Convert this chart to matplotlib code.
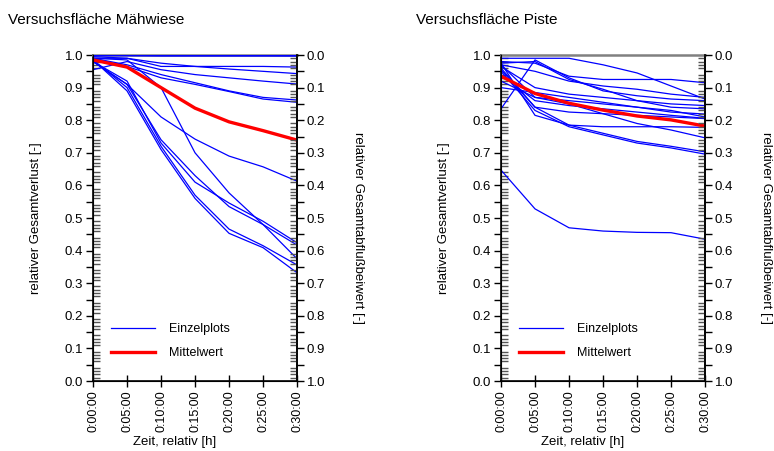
import matplotlib
matplotlib.use("Agg")
import matplotlib.pyplot as plt
from matplotlib.ticker import MultipleLocator, FuncFormatter, FixedLocator

plt.rcParams['font.family'] = ['Liberation Sans', 'DejaVu Sans']

# Zeit in Minuten seit Beregnungsbeginn
zeit_min = [0, 5, 10, 15, 20, 25, 30]

# Versuchsfläche Mähwiese: relativer Gesamtverlust je Plot
maehwiese_einzel = [
    [1.000, 1.000, 1.000, 1.000, 1.000, 1.000, 1.000],
    [1.000, 1.000, 0.999, 0.999, 0.999, 0.999, 0.998],
    [0.998, 0.998, 0.997, 0.997, 0.997, 0.997, 0.997],
    [0.990, 0.990, 0.965, 0.965, 0.965, 0.965, 0.963],
    [0.995, 0.990, 0.975, 0.965, 0.957, 0.950, 0.943],
    [0.955, 0.980, 0.955, 0.940, 0.930, 0.920, 0.911],
    [0.990, 0.970, 0.940, 0.915, 0.890, 0.870, 0.862],
    [0.990, 0.965, 0.930, 0.910, 0.888, 0.865, 0.855],
    [0.980, 0.910, 0.810, 0.742, 0.690, 0.657, 0.613],
    [0.990, 0.985, 0.900, 0.700, 0.577, 0.480, 0.375],
    [0.980, 0.920, 0.730, 0.610, 0.546, 0.490, 0.424],
    [0.980, 0.910, 0.740, 0.630, 0.535, 0.480, 0.417],
    [0.985, 0.900, 0.720, 0.570, 0.466, 0.415, 0.356],
    [0.985, 0.890, 0.710, 0.560, 0.453, 0.409, 0.332],
]
maehwiese_mittel = [0.985, 0.963, 0.900, 0.837, 0.795, 0.768, 0.739]

# Versuchsfläche Piste
piste_einzel = [
    [0.990, 0.990, 0.990, 0.970, 0.945, 0.905, 0.865],
    [0.980, 0.975, 0.935, 0.925, 0.925, 0.925, 0.915],
    [0.835, 0.985, 0.930, 0.890, 0.875, 0.865, 0.860],
    [0.975, 0.980, 0.925, 0.895, 0.860, 0.840, 0.835],
    [0.970, 0.950, 0.920, 0.905, 0.895, 0.880, 0.870],
    [0.965, 0.900, 0.880, 0.870, 0.860, 0.850, 0.845],
    [0.970, 0.870, 0.860, 0.850, 0.840, 0.830, 0.810],
    [0.960, 0.840, 0.825, 0.820, 0.815, 0.810, 0.805],
    [0.975, 0.815, 0.785, 0.780, 0.780, 0.780, 0.778],
    [0.955, 0.840, 0.785, 0.760, 0.735, 0.720, 0.703],
    [0.950, 0.830, 0.780, 0.755, 0.730, 0.715, 0.696],
    [0.920, 0.870, 0.850, 0.820, 0.790, 0.770, 0.746],
    [0.900, 0.885, 0.870, 0.855, 0.840, 0.825, 0.819],
    [0.940, 0.860, 0.845, 0.835, 0.825, 0.815, 0.806],
    [0.647, 0.528, 0.470, 0.460, 0.456, 0.455, 0.435],
]
piste_mittel = [0.935, 0.882, 0.852, 0.831, 0.813, 0.801, 0.782]

titel = ["Versuchsfläche Mähwiese", "Versuchsfläche Piste"]


def zeit_fmt(x, pos):
    return "0:%02d:00" % int(round(x))


def halbe_labels(y, pos):
    # Beschriftung nur an den Zehntel-Ticks
    if abs(round(y * 10) - y * 10) < 1e-6:
        return "%.1f" % y
    return ""


def panel(ax, einzel, mittel):
    for i, reihe in enumerate(einzel):
        ax.plot(zeit_min, reihe, color=(0, 0, 1), lw=0.9,
                label="Einzelplots" if i == 0 else None, zorder=3)
    ax.plot(zeit_min, mittel, color=(1, 0, 0), lw=2.4, label="Mittelwert", zorder=4)

    ax.set_xlim(0, 30)
    ax.set_ylim(0, 1)
    ax.xaxis.set_major_locator(FixedLocator(zeit_min))
    ax.xaxis.set_major_formatter(FuncFormatter(zeit_fmt))
    ax.tick_params(axis='x', direction='inout', length=9, width=1, labelsize=9,
                   labelrotation=90, pad=2)
    ax.yaxis.set_major_locator(MultipleLocator(0.05))
    ax.yaxis.set_major_formatter(FuncFormatter(halbe_labels))
    ax.yaxis.set_minor_locator(MultipleLocator(0.01))
    ax.tick_params(axis='y', which='major', direction='out', length=5, width=1,
                   labelsize=9.5, pad=2)
    ax.tick_params(axis='y', which='minor', direction='in', length=5, width=1,
                   color='#555555')

    for s in ['left', 'bottom', 'right']:
        ax.spines[s].set_linewidth(1.2)
    ax.spines['top'].set_color('#808080')
    ax.spines['top'].set_linewidth(1.8)

    ax.set_ylabel("relativer Gesamtverlust [-]", fontsize=9.5)
    ax.yaxis.set_label_coords(-0.25, 0.5)
    ax.set_xlabel("Zeit, relativ [h]", fontsize=9.5)
    ax.xaxis.set_label_coords(0.40, -0.168)

    rechts = ax.twinx()
    rechts.set_ylim(1, 0)
    rechts.yaxis.set_major_locator(MultipleLocator(0.05))
    rechts.yaxis.set_major_formatter(FuncFormatter(halbe_labels))
    rechts.yaxis.set_minor_locator(MultipleLocator(0.01))
    rechts.tick_params(axis='y', which='major', direction='out', length=5, width=1,
                       labelsize=9.5, pad=2)
    rechts.tick_params(axis='y', which='minor', direction='in', length=5, width=1,
                       color='#555555')
    rechts.spines['top'].set_visible(False)
    rechts.spines['right'].set_linewidth(1.2)
    rechts.set_ylabel("relativer Gesamtabflußbeiwert [-]", fontsize=9.5,
                      rotation=-90, va='center')
    rechts.yaxis.set_label_coords(1.30, 0.47)

    ax.legend(loc='lower left', bbox_to_anchor=(0.09, 0.066), frameon=False,
              fontsize=9, handlelength=3.5, handletextpad=1.1, labelspacing=1.0,
              borderpad=0, borderaxespad=0)


fig = plt.figure(figsize=(7.74, 4.51), dpi=100)
ax_l = fig.add_axes([0.1202, 0.1552, 0.2636, 0.7228])
ax_r = fig.add_axes([0.6473, 0.1552, 0.2636, 0.7228])

panel(ax_l, maehwiese_einzel, maehwiese_mittel)
panel(ax_r, piste_einzel, piste_mittel)

fig.text(8 / 774, 1 - 20 / 451, titel[0], fontsize=11, va='center', ha='left')
fig.text(416 / 774, 1 - 20 / 451, titel[1], fontsize=11, va='center', ha='left')

fig.savefig("out.png", dpi=100)
